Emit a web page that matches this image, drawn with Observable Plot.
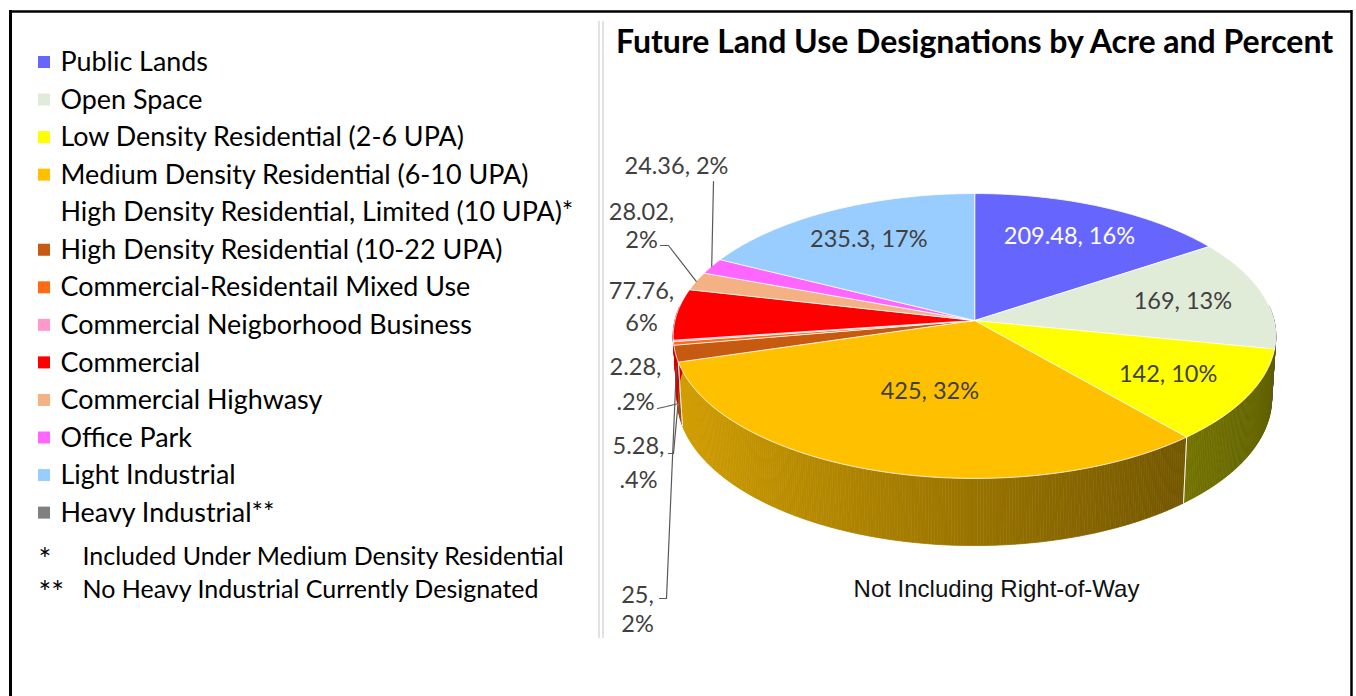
<!DOCTYPE html>
<html>
<head>
<meta charset="utf-8">
<script src="https://cdn.jsdelivr.net/npm/d3@7"></script>
<script src="https://cdn.jsdelivr.net/npm/@observablehq/plot@0.6"></script>
<style>
  html, body { margin: 0; padding: 0; background: #ffffff; }
  #chart svg { display: block; }
</style>
</head>
<body>
<div id="chart"></div>
<script>
// ---------------- DATA ----------------
const categories = [
  "Public Lands",
  "Open Space",
  "Low Density Residential (2-6 UPA)",
  "Medium Density Residential (6-10 UPA)",
  "High Density Residential, Limited (10 UPA)*",
  "High Density Residential (10-22 UPA)",
  "Commercial-Residentail Mixed Use",
  "Commercial Neigborhood Business",
  "Commercial",
  "Commercial Highwasy",
  "Office Park",
  "Light Industrial",
  "Heavy Industrial**"
];
const acres = [209.48, 169, 142, 425, 0, 25, 5.28, 2.28, 77.76, 28.02, 24.36, 235.3, 0];
const percentLabels = ["16%", "13%", "10%", "32%", "", "2%", ".4%", ".2%", "6%", "2%", "2%", "17%", ""];
const palette = ["#6666FF", "#E0EBD8", "#FFFF00", "#FFC000", null, "#C65A11", "#FF6A13", "#FF99CC",
                 "#FF0000", "#F4B183", "#FF66FF", "#99CCFF", "#808080"];
const footnotes = [
  {mark: "*", text: "Included Under Medium Density Residential"},
  {mark: "**", text: "No Heavy Industrial Currently Designated"}
];
const title = "Future Land Use Designations by Acre and Percent";
const caption = "Not Including Right-of-Way";

// ---------------- LAYOUT ----------------
const W = 1356, H = 696;
const V = {cx: 974, cy: 320, K: 299.5, s: 0.47, c: 0.8827, r: 0.1232, depth: 0.238};
// perspective projection of a point on the pie: theta clockwise from back, f radius fraction, h depth fraction
function proj(theta, f = 1, h = 0) {
  const t = theta * Math.PI / 180;
  const X = f * Math.sin(t), Zn = -f * Math.cos(t), Hh = h * V.depth;
  const d = 1 - V.r * Zn * V.c + V.r * Hh * V.s;
  return [V.cx + V.K * X / d, V.cy + V.K * (Zn * V.s + Hh * V.c) / d];
}
const legend = {swatchX1: 38, swatchX2: 50, textX: 60, y0: 62, dy: 37.55, fontSize: 26.9};
const labelSize = 23.5;
const outsideLayout = [
  {name: "Office Park", x: 676, y1: 166, y2: null, elbow: [[713, 181]], h: 0},
  {name: "Commercial Highwasy", x: 641, y1: 212, y2: 240, elbow: [[660, 245], [668, 245]], h: 0},
  {name: "Commercial", x: 641, y1: 291, y2: 323, elbow: null, h: 0},
  {name: "Commercial Neigborhood Business", x: 635, y1: 367, y2: 402, elbow: [[657, 408], [666, 406]], h: 1},
  {name: "Commercial-Residentail Mixed Use", x: 638, y1: 446, y2: 480, elbow: [[668, 453], [673, 453]], h: 1},
  {name: "High Density Residential (10-22 UPA)", x: 637, y1: 595, y2: 624, elbow: [[659, 598], [666, 598]], h: 0.2}
];

// ---------------- GEOMETRY FROM DATA ----------------
const total = d3.sum(acres);
const slices = [];
let acc = 0;
categories.forEach((name, i) => {
  if (acres[i] <= 0) return;
  const a0 = acc / total * 360;
  acc += acres[i];
  const a1 = acc / total * 360;
  slices.push({i, name, value: acres[i], pct: percentLabels[i], color: palette[i], a0, a1, mid: (a0 + a1) / 2, share: acres[i] / total});
});

function shade(color, theta) {
  const f = 0.6 - 0.23 * Math.sin(theta * Math.PI / 180);
  const c = d3.rgb(color);
  return d3.rgb(c.r * f, c.g * f, c.b * f).formatHex();
}

// walls (front half only, a little past the sides to close the silhouette), split in thin segments to shade them
const wallPts = [];
const wallEdges = [];
slices.forEach(s => {
  const lo = Math.max(s.a0, 84), hi = Math.min(s.a1, 276);
  if (hi <= lo) return;
  const n = Math.max(1, Math.ceil((hi - lo) / 0.5));
  for (let k = 0; k < n; k++) {
    const b0 = lo + (hi - lo) * k / n, b1 = lo + (hi - lo) * (k + 1) / n;
    const id = `w${s.i}-${k}`;
    const col = shade(s.color, (b0 + b1) / 2);
    [[b0, 0], [b1, 0], [b1, 1], [b0, 1]].forEach(([a, h]) => {
      const [x, y] = proj(a, 1, h);
      wallPts.push({id, x, y, color: col});
    });
  }
  [s.a0, s.a1].forEach((a, j) => {
    if (a > 110 && a < 255) {
      [0, 1].forEach(h => { const [x, y] = proj(a, 1, h); wallEdges.push({id: `e${s.i}-${j}`, x, y}); });
    }
  });
});

// top faces
const topPts = [];
slices.forEach(s => {
  const id = `t${s.i}`;
  const [ax, ay] = proj(0, 0, 0);
  topPts.push({id, x: ax, y: ay, color: s.color});
  const n = Math.max(2, Math.ceil((s.a1 - s.a0) / 0.5));
  for (let k = 0; k <= n; k++) {
    const [x, y] = proj(s.a0 + (s.a1 - s.a0) * k / n, 1, 0);
    topPts.push({id, x, y, color: s.color});
  }
});

// inside labels
const outsideNames = new Set(outsideLayout.map(d => d.name));
const insideLabels = slices.filter(s => !outsideNames.has(s.name)).map(s => {
  const f = s.share > 0.25 ? 0.5 : 0.72;
  const [x, y] = proj(s.mid, f, 0);
  return {x, y, text: `${s.value}, ${s.pct}`, fill: s.color === "#6666FF" ? "#ffffff" : "#404040"};
});

// outside labels and leader lines
const outsideText = [];
const leaderPts = [];
outsideLayout.forEach((o, j) => {
  const s = slices.find(d => d.name === o.name);
  if (o.y2 == null) {
    outsideText.push({x: o.x, y: o.y1, text: `${s.value}, ${s.pct}`});
  } else {
    outsideText.push({x: o.x, y: o.y1, text: `${s.value},`});
    outsideText.push({x: o.x, y: o.y2, text: s.pct});
  }
  if (o.elbow) {
    o.elbow.forEach(([x, y]) => leaderPts.push({id: j, x, y}));
    const [tx, ty] = proj(s.mid, 1, o.h);
    leaderPts.push({id: j, x: tx, y: ty});
  }
});

// legend rows
const legendRows = categories.map((name, i) => ({
  name, color: palette[i],
  y: legend.y0 + i * legend.dy
}));
const footRows = footnotes.map((d, i) => ({...d, y: legend.y0 + categories.length * legend.dy + 6 + i * 33}));

// ---------------- PLOT ----------------
const chart = Plot.plot({
  width: W, height: H, margin: 0,
  x: {type: "identity", axis: null},
  y: {type: "identity", axis: null},
  color: {type: "identity"},
  style: {background: "#ffffff", fontFamily: "Lato, sans-serif"},
  marks: [
    // frame
    Plot.ruleX([10], {y1: 10, y2: H, stroke: "#000", strokeWidth: 3}),
    Plot.ruleX([1351], {y1: 10, y2: H, stroke: "#000", strokeWidth: 2.5}),
    Plot.ruleY([11], {x1: 9, x2: 1352, stroke: "#000", strokeWidth: 2.5}),
    // separator
    Plot.ruleX([598.5, 602.5], {y1: 21, y2: 638, stroke: "#d9d9d9", strokeWidth: 1.5}),

    // pie walls
    Plot.line(wallPts, {x: "x", y: "y", z: "id", fill: "color", stroke: "color", strokeWidth: 0.7, curve: "linear-closed"}),
    Plot.line(wallEdges, {x: "x", y: "y", z: "id", stroke: "#ffffff", strokeOpacity: 0.7, strokeWidth: 1}),
    // pie tops
    Plot.line(topPts, {x: "x", y: "y", z: "id", fill: "color", stroke: "#ffffff", strokeOpacity: 0.8, strokeWidth: 1, curve: "linear-closed"}),

    // labels
    Plot.text(insideLabels, {x: "x", y: "y", text: "text", fill: "fill", fontSize: labelSize}),
    Plot.line(leaderPts, {x: "x", y: "y", z: "id", stroke: "#595959", strokeWidth: 1.2}),
    Plot.text(outsideText, {x: "x", y: "y", text: "text", fill: "#404040", fontSize: labelSize}),

    // title & caption
    Plot.text([title], {x: () => 974, y: () => 42, text: d => d, fontSize: 32, fontWeight: "bold", fill: "#000"}),
    Plot.text([caption], {x: () => 996, y: () => 589, text: d => d, fontSize: 24, fill: "#111", fontFamily: "Liberation Sans, Arial, sans-serif"}),

    // legend
    Plot.rect(legendRows.filter(d => d.color), {x1: () => legend.swatchX1, x2: () => legend.swatchX2, y1: d => d.y - 6, y2: d => d.y + 6, fill: "color"}),
    Plot.text(legendRows, {x: () => legend.textX, y: "y", text: "name", textAnchor: "start", fontSize: legend.fontSize, fill: "#000"}),
    Plot.text(footRows, {x: () => legend.swatchX1, y: "y", text: "mark", textAnchor: "start", fontSize: 30, dy: 4, fill: "#000"}),
    Plot.text(footRows, {x: () => 82, y: "y", text: "text", textAnchor: "start", fontSize: 25, fill: "#000"})
  ]
});
document.getElementById("chart").appendChild(chart);
</script>
</body>
</html>
